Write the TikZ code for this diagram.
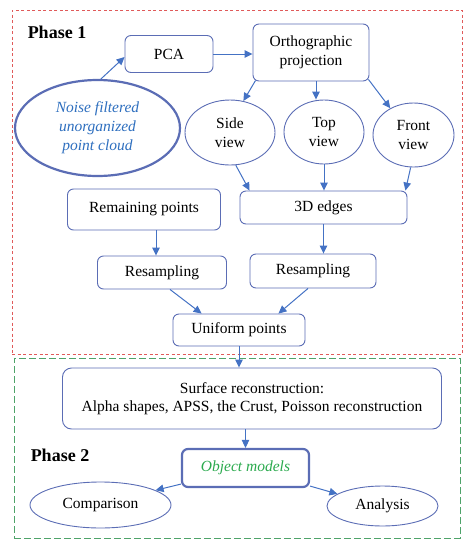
\documentclass[tikz,border=0pt]{standalone}
\usepackage{fontspec}
\setmainfont{Liberation Serif}
\usetikzlibrary{shapes.geometric,arrows.meta}
\definecolor{bord}{HTML}{5B6DB5}
\definecolor{arr}{HTML}{4472C4}
\definecolor{redd}{HTML}{E05A5A}
\definecolor{grnd}{HTML}{4FA36A}
\definecolor{noisetxt}{HTML}{2E6FBF}
\definecolor{objtxt}{HTML}{2BAA4E}
\begin{document}
\begin{tikzpicture}[x=1pt,y=-1pt,
  txt/.style={font=\fontsize{15.5}{18.5}\selectfont},
  box/.style={txt, draw=bord, line width=0.9pt, rounded corners=6pt, fill=white, inner sep=0pt, align=center},
  ell/.style={txt, ellipse, draw=bord, line width=0.9pt, fill=white, inner sep=0pt, align=center},
  conn/.style={draw=arr, line width=1pt, -{Triangle[length=8pt,width=7.5pt]}},
  phase/.style={font=\fontsize{18}{21}\selectfont\bfseries}]
\useasboundingbox (0,0) rectangle (470,550);
% phase frames
\node[draw=redd, line width=0.8pt, dash pattern=on 3pt off 2.5pt, minimum width=450pt, minimum height=344pt, inner sep=0pt] (ph1) at (237,182) {};
\node[draw=grnd, line width=0.8pt, dash pattern=on 7pt off 3pt, minimum width=446pt, minimum height=180pt, inner sep=0pt] (ph2) at (237,448) {};
\node[phase] (p1) at (57,32) {Phase 1};
\node[phase] (p2) at (60,455) {Phase 2};
% phase 1 nodes
\node[box, minimum width=88pt, minimum height=37pt] (pca) at (169,54) {PCA};
\node[box, minimum width=116pt, minimum height=57pt] (ortho) at (311,52.5) {Orthographic\\projection};
\node[ell, line width=2.2pt, minimum width=165pt, minimum height=96pt, text=noisetxt, font=\fontsize{15.5}{19}\selectfont\itshape] (noise) at (97.5,128) {Noise filtered\\unorganized\\point cloud};
\node[ell, minimum width=90pt, minimum height=65pt] (side) at (230,132.5) {Side\\view};
\node[ell, minimum width=80pt, minimum height=64pt] (top) at (324,132) {Top\\view};
\node[ell, minimum width=81pt, minimum height=64pt] (front) at (413.5,135) {Front\\view};
\node[box, minimum width=153pt, minimum height=41pt] (rem) at (144,209.5) {Remaining points};
\node[box, minimum width=167pt, minimum height=33pt] (edges) at (323.5,207.5) {3D edges};
\node[box, minimum width=129pt, minimum height=33pt] (res1) at (162,272.5) {Resampling};
\node[box, minimum width=126pt, minimum height=34pt] (res2) at (313,271) {Resampling};
\node[box, minimum width=132pt, minimum height=32pt] (uni) at (239,330) {Uniform points};
% phase 2 nodes
\node[box, minimum width=379pt, minimum height=61pt, rounded corners=9pt] (surf) at (252,398.5) {Surface reconstruction:\\Alpha shapes, APSS, the Crust, Poisson reconstruction};
\node[box, line width=2.2pt, minimum width=127pt, minimum height=38pt, text=objtxt, font=\fontsize{15.5}{18}\selectfont\itshape] (obj) at (245.5,468) {Object models};
\node[ell, minimum width=141pt, minimum height=46pt] (comp) at (100.5,505) {Comparison};
\node[ell, minimum width=111pt, minimum height=40pt] (ana) at (382.5,506) {Analysis};
% connectors
\draw[conn] (noise.86) -- ([yshift=-3pt]pca.west);
\draw[conn] (pca.east) -- (pca.east -| ortho.west);
\draw[conn] ([xshift=3pt,yshift=1pt]ortho.south west) -- (side.67);
\draw[conn] ([xshift=5pt]ortho.south) -- ([xshift=5pt]ortho.south |- top.north);
\draw[conn] ([xshift=-1pt,yshift=2pt]ortho.south east) -- (front.131);
\draw[conn] (side.280) -- ([xshift=10pt]edges.north west);
\draw[conn] (top.south) -- (top.south |- edges.north);
\draw[conn] (front.265) -- ([xshift=-2pt]edges.north east);
\draw[conn] ([xshift=12pt]rem.south) -- ([xshift=12pt]rem.south |- res1.north);
\draw[conn] (edges.south) -- (edges.south |- res2.north);
\draw[conn] ([xshift=8pt]res1.south) -- ([xshift=29pt]uni.north west);
\draw[conn] ([xshift=-5pt]res2.south) -- ([xshift=-27pt]uni.north east);
\draw[conn] (uni.south) -- (uni.south |- surf.north);
\draw[conn] (obj.north |- surf.south) -- (obj.north);
\draw[conn] ([yshift=4pt]obj.south west) -- (comp.15);
\draw[conn] ([yshift=2pt]obj.south east) -- (ana.165);
\end{tikzpicture}
\end{document}
